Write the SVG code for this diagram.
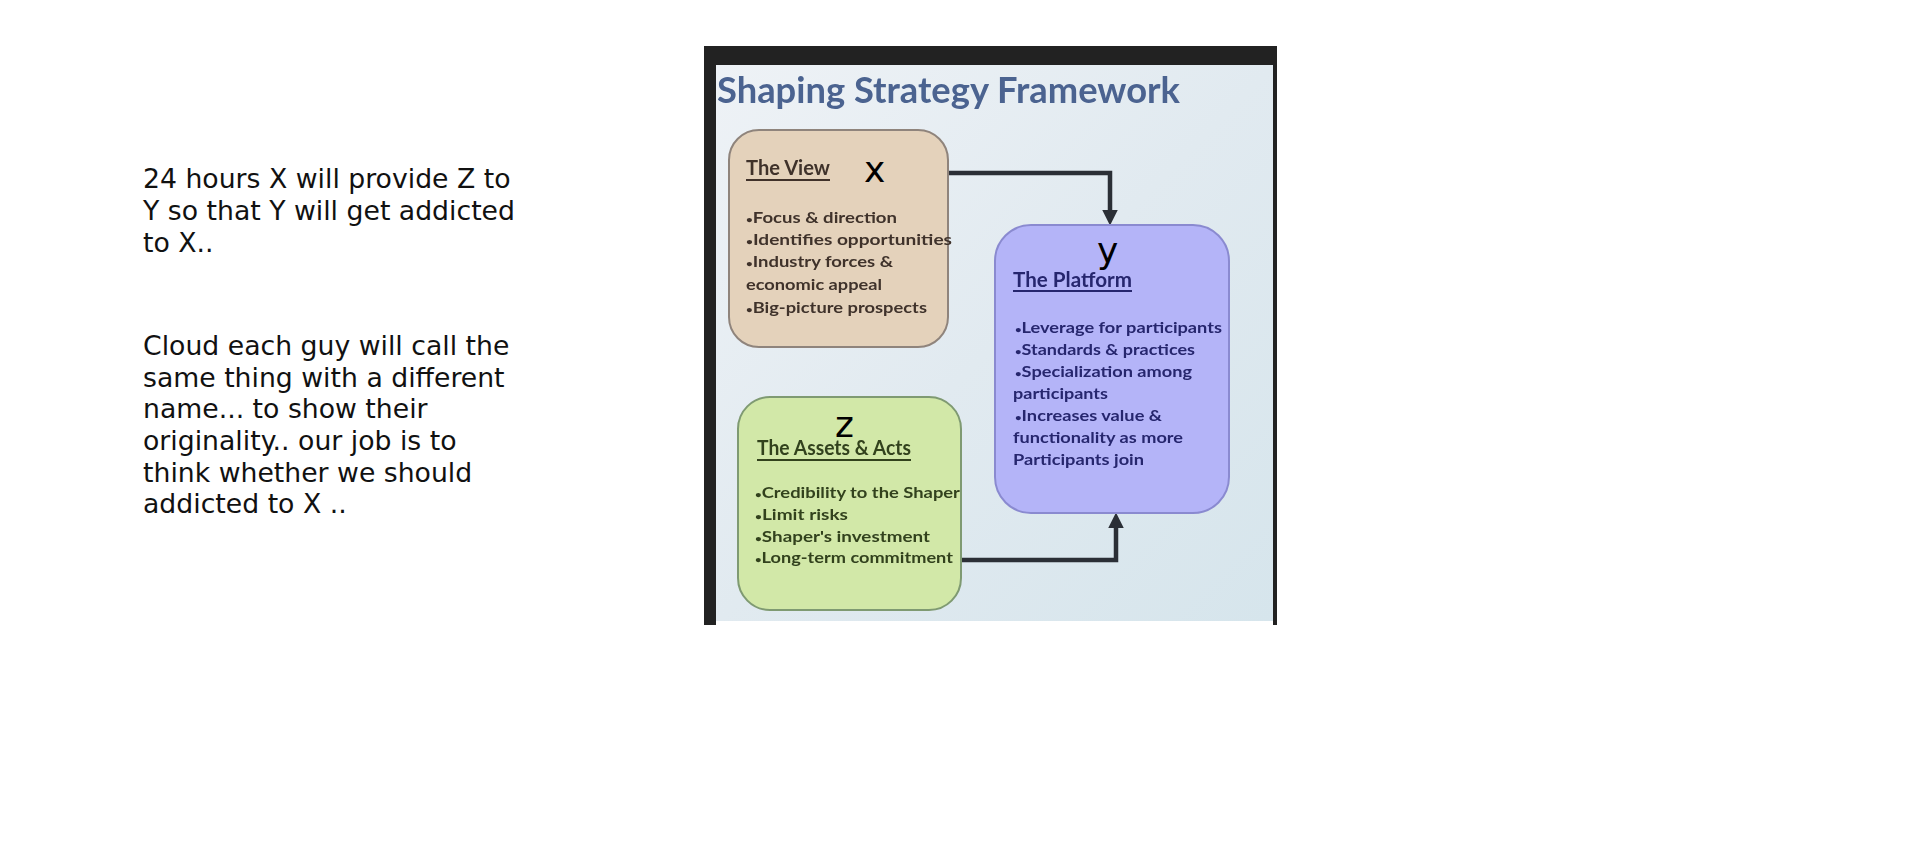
<svg xmlns="http://www.w3.org/2000/svg" width="1914" height="847" viewBox="0 0 1914 847">
<defs>
<style>
.note{font-family:"DejaVu Sans",Verdana,sans-serif;font-size:26.7px;fill:#111;}
.lbl{font-family:"DejaVu Sans",Verdana,sans-serif;font-size:36px;fill:#000;}
.slide{font-family:Lato,"Open Sans",sans-serif;font-weight:bold;}
.title{font-size:36px;fill:#4b6390;}
.head{font-size:20px;}
.bul{font-size:16px;}
.b{font-size:10px;}
.view{fill:#3f332c;}
.plat{fill:#26266e;}
.asset{fill:#33421f;}
.conn{fill:none;stroke:#2b2f36;stroke-width:4.5;}
.ul{stroke-width:2;}
</style>
<linearGradient id="bg" x1="0" y1="0" x2="1" y2="1">
<stop offset="0" stop-color="#eef2f6"/>
<stop offset="0.5" stop-color="#e1eaf0"/>
<stop offset="1" stop-color="#d6e5ec"/>
</linearGradient>
<filter id="soft" x="-5%" y="-5%" width="110%" height="110%">
<feGaussianBlur stdDeviation="0.6"/>
</filter>
<marker id="ah" markerUnits="userSpaceOnUse" markerWidth="16" markerHeight="16" viewBox="0 0 15 15" refX="7" refY="7.5" orient="auto">
<path d="M0,0 L15,7.5 L0,15 z" fill="#2b2f36"/>
</marker>
</defs>

<g id="notes">
<text class="note" x="143" y="187.5">24 hours X will provide Z to</text>
<text class="note" x="143" y="219.5">Y so that Y will get addicted</text>
<text class="note" x="143" y="251.5">to X..</text>
<text class="note" x="143" y="355">Cloud each guy will call the</text>
<text class="note" x="143" y="386.7">same thing with a different</text>
<text class="note" x="143" y="418.4">name... to show their</text>
<text class="note" x="143" y="450">originality.. our job is to</text>
<text class="note" x="143" y="481.7">think whether we should</text>
<text class="note" x="143" y="513.4">addicted to X ..</text>
</g>

<g id="frame">
<rect x="704" y="46" width="573" height="19" fill="#222"/>
<rect x="704" y="46" width="12" height="579" fill="#222"/>
<rect x="1273" y="46" width="4" height="579" fill="#222"/>
<rect x="716" y="65" width="557" height="556" fill="url(#bg)"/>
</g>

<g id="title" filter="url(#soft)">
<text class="slide title" x="717" y="103" textLength="463" lengthAdjust="spacingAndGlyphs">Shaping Strategy Framework</text>
</g>

<g id="connectors">
<path class="conn" d="M948 173 H1110 V217" marker-end="url(#ah)"/>
<path class="conn" d="M962 560 H1116 V521" marker-end="url(#ah)"/>
</g>

<g id="view">
<rect x="729" y="130" width="219" height="217" rx="30" fill="#e4d2bb" stroke="#8f847c" stroke-width="2"/>
<g filter="url(#soft)">
<text class="slide head view" x="746" y="175" textLength="84" lengthAdjust="spacingAndGlyphs">The View</text>
<line class="ul" x1="746" y1="180" x2="830" y2="180" stroke="#3f332c"/>
<text class="slide bul view" x="746" y="223" textLength="151" lengthAdjust="spacingAndGlyphs"><tspan class="b">•</tspan>Focus &amp; direction</text>
<text class="slide bul view" x="746" y="245" textLength="206" lengthAdjust="spacingAndGlyphs"><tspan class="b">•</tspan>Identifies opportunities</text>
<text class="slide bul view" x="746" y="267" textLength="147" lengthAdjust="spacingAndGlyphs"><tspan class="b">•</tspan>Industry forces &amp;</text>
<text class="slide bul view" x="746" y="290" textLength="136" lengthAdjust="spacingAndGlyphs">economic appeal</text>
<text class="slide bul view" x="746" y="313" textLength="181" lengthAdjust="spacingAndGlyphs"><tspan class="b">•</tspan>Big-picture prospects</text>
</g>
<text class="lbl" x="864" y="182">x</text>
</g>

<g id="platform">
<rect x="995" y="225" width="234" height="288" rx="36" fill="#b4b4f8" stroke="#8a8ad0" stroke-width="2"/>
<g filter="url(#soft)">
<text class="slide head plat" x="1013" y="287" textLength="119" lengthAdjust="spacingAndGlyphs">The Platform</text>
<line class="ul" x1="1013" y1="291" x2="1132" y2="291" stroke="#26266e"/>
<text class="slide bul plat" x="1015" y="333" textLength="207" lengthAdjust="spacingAndGlyphs"><tspan class="b">•</tspan>Leverage for participants</text>
<text class="slide bul plat" x="1015" y="355" textLength="180" lengthAdjust="spacingAndGlyphs"><tspan class="b">•</tspan>Standards &amp; practices</text>
<text class="slide bul plat" x="1015" y="377" textLength="177" lengthAdjust="spacingAndGlyphs"><tspan class="b">•</tspan>Specialization among</text>
<text class="slide bul plat" x="1013" y="399" textLength="95" lengthAdjust="spacingAndGlyphs">participants</text>
<text class="slide bul plat" x="1015" y="421" textLength="147" lengthAdjust="spacingAndGlyphs"><tspan class="b">•</tspan>Increases value &amp;</text>
<text class="slide bul plat" x="1013" y="443" textLength="170" lengthAdjust="spacingAndGlyphs">functionality as more</text>
<text class="slide bul plat" x="1013" y="465" textLength="131" lengthAdjust="spacingAndGlyphs">Participants join</text>
</g>
<text class="lbl" x="1097" y="263">y</text>
</g>

<g id="assets">
<rect x="738" y="397" width="223" height="213" rx="32" fill="#d2e8a8" stroke="#7f9a72" stroke-width="2"/>
<g filter="url(#soft)">
<text class="slide head asset" x="757" y="455" textLength="154" lengthAdjust="spacingAndGlyphs">The Assets &amp; Acts</text>
<line class="ul" x1="757" y1="460" x2="911" y2="460" stroke="#33421f"/>
<text class="slide bul asset" x="755" y="498" textLength="205" lengthAdjust="spacingAndGlyphs"><tspan class="b">•</tspan>Credibility to the Shaper</text>
<text class="slide bul asset" x="755" y="520" textLength="93" lengthAdjust="spacingAndGlyphs"><tspan class="b">•</tspan>Limit risks</text>
<text class="slide bul asset" x="755" y="542" textLength="175" lengthAdjust="spacingAndGlyphs"><tspan class="b">•</tspan>Shaper's investment</text>
<text class="slide bul asset" x="755" y="563" textLength="198" lengthAdjust="spacingAndGlyphs"><tspan class="b">•</tspan>Long-term commitment</text>
</g>
<text class="lbl" x="835" y="437">z</text>
</g>
</svg>
